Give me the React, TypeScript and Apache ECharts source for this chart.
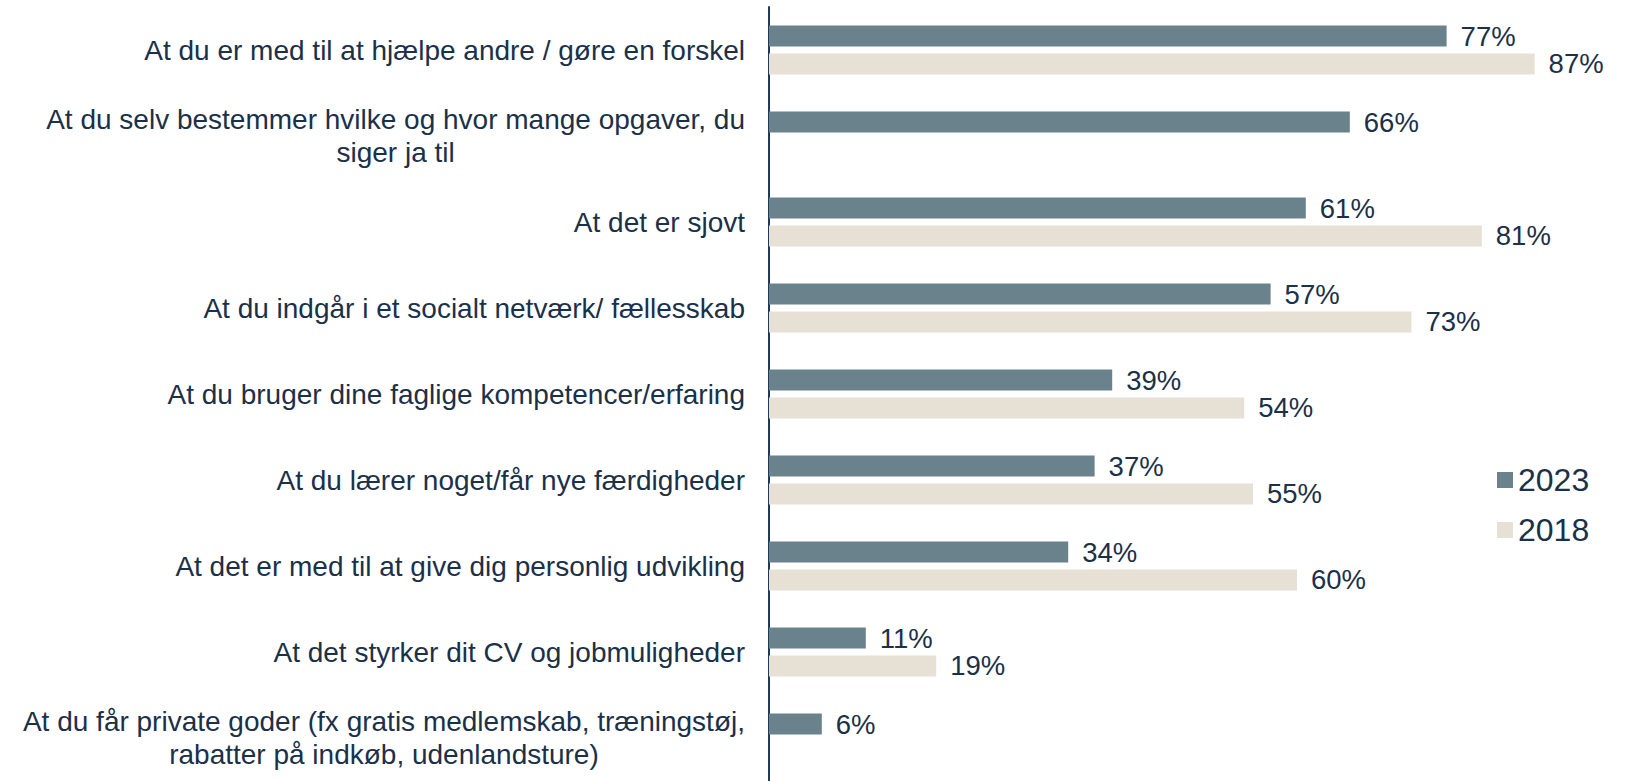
import React, { useEffect, useRef } from "react";
import * as echarts from "echarts";

const categories = [
  "At du er med til at hjælpe andre / gøre en forskel",
  "At du selv bestemmer hvilke og hvor mange opgaver, du\nsiger ja til",
  "At det er sjovt",
  "At du indgår i et socialt netværk/ fællesskab",
  "At du bruger dine faglige kompetencer/erfaring",
  "At du lærer noget/får nye færdigheder",
  "At det er med til at give dig personlig udvikling",
  "At det styrker dit CV og jobmuligheder",
  "At du får private goder (fx gratis medlemskab, træningstøj,\nrabatter på indkøb, udenlandsture)",
];
const values2023 = [77, 66, 61, 57, 39, 37, 34, 11, 6];
const values2018 = [87, null, 81, 73, 54, 55, 60, 19, null];
const seriesNames = ["2023", "2018"];

const TEXT = "#1b3049";
const FONT = "'Liberation Sans', Arial, sans-serif";

export default function App() {
  const ref = useRef<HTMLDivElement>(null);
  useEffect(() => {
    if (!ref.current) return;
    const chart = echarts.init(ref.current, null, { renderer: "svg" });
    const labelStyle = {
      show: true,
      position: "right",
      distance: 14,
      color: TEXT,
      fontFamily: FONT,
      fontSize: 27.5,
      formatter: (p: any) => (p.value == null ? "" : p.value + "%"),
    };
    chart.setOption({
      animation: false,
      backgroundColor: "#ffffff",
      textStyle: { fontFamily: FONT, color: TEXT },
      grid: { left: 769, top: 7, height: 778, width: 792, containLabel: false },
      legend: {
        orient: "vertical",
        left: 1492,
        top: 457,
        itemWidth: 16,
        itemHeight: 16,
        itemGap: 14,
        icon: "rect",
        textStyle: { color: TEXT, fontSize: 32, fontFamily: FONT, lineHeight: 36 },
        data: seriesNames,
      },
      xAxis: {
        type: "value",
        min: 0,
        max: 90,
        show: false,
      },
      yAxis: {
        type: "category",
        inverse: true,
        data: categories,
        axisLine: { show: true, lineStyle: { color: "#1f3a56", width: 2 } },
        axisTick: { show: false },
        splitLine: { show: false },
        axisLabel: {
          margin: 24,
          align: "right",
          formatter: (v: string) =>
            v
              .split("\n")
              .map((l) => "{c|" + l + "}")
              .join("\n"),
          rich: {
            c: {
              align: "center",
              color: TEXT,
              fontFamily: FONT,
              fontSize: 28,
              lineHeight: 33,
            },
          },
        },
      },
      series: [
        {
          name: seriesNames[0],
          type: "bar",
          data: values2023,
          barWidth: 21,
          barGap: "33%",
          itemStyle: { color: "#6a828b" },
          label: labelStyle,
        },
        {
          name: seriesNames[1],
          type: "bar",
          data: values2018,
          barWidth: 21,
          barGap: "33%",
          itemStyle: { color: "#e7e0d5" },
          label: labelStyle,
        },
      ],
    });
    return () => chart.dispose();
  }, []);
  return (
    <div
      ref={ref}
      style={{ position: "absolute", left: 0, top: 0, width: 1632, height: 781 }}
    />
  );
}
